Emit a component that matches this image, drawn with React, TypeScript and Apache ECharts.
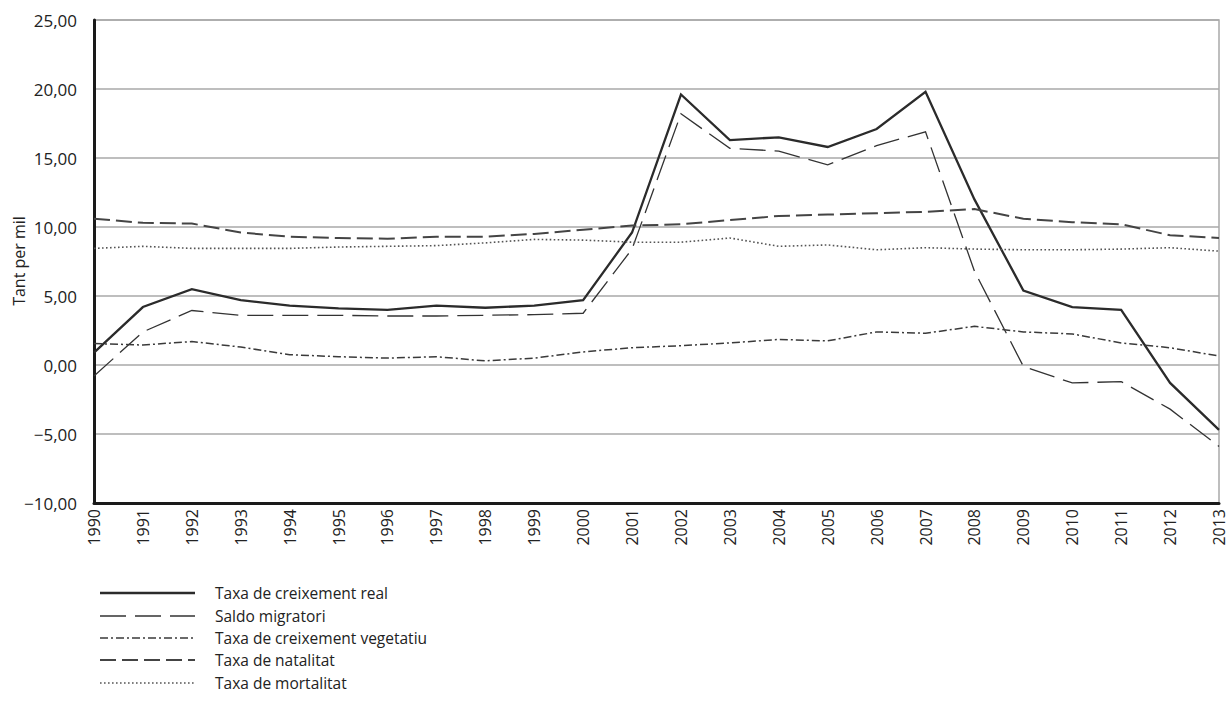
import React, { useEffect, useRef } from "react";
import * as echarts from "echarts";

const years = [
  "1990", "1991", "1992", "1993", "1994", "1995", "1996", "1997", "1998", "1999", "2000", "2001",
  "2002", "2003", "2004", "2005", "2006", "2007", "2008", "2009", "2010", "2011", "2012", "2013",
];

const creixementReal = [0.9, 4.2, 5.5, 4.7, 4.3, 4.1, 4.0, 4.3, 4.15, 4.3, 4.7, 9.6, 19.6, 16.3, 16.5, 15.8, 17.1, 19.8, 12.0, 5.4, 4.2, 4.0, -1.3, -4.7];
const saldoMigratori = [-0.8, 2.4, 3.95, 3.6, 3.6, 3.6, 3.55, 3.55, 3.6, 3.65, 3.75, 8.4, 18.2, 15.7, 15.5, 14.5, 15.9, 16.9, 6.8, -0.1, -1.3, -1.2, -3.2, -5.9];
const creixementVegetatiu = [1.55, 1.45, 1.7, 1.3, 0.75, 0.6, 0.5, 0.6, 0.3, 0.5, 0.95, 1.25, 1.4, 1.6, 1.85, 1.75, 2.4, 2.3, 2.8, 2.4, 2.25, 1.6, 1.25, 0.65];
const natalitat = [10.6, 10.3, 10.25, 9.6, 9.3, 9.2, 9.15, 9.3, 9.3, 9.5, 9.8, 10.1, 10.2, 10.5, 10.8, 10.9, 11.0, 11.1, 11.3, 10.6, 10.35, 10.2, 9.4, 9.2];
const mortalitat = [8.45, 8.6, 8.45, 8.45, 8.45, 8.55, 8.6, 8.65, 8.85, 9.1, 9.05, 8.9, 8.9, 9.2, 8.6, 8.7, 8.35, 8.5, 8.4, 8.35, 8.35, 8.4, 8.5, 8.25];

const seriesNames = [
  "Taxa de creixement real",
  "Saldo migratori",
  "Taxa de creixement vegetatiu",
  "Taxa de natalitat",
  "Taxa de mortalitat",
];

const yAxisTitle = "Tant per mil";

const FONT = "'Open Sans', 'Noto Sans', sans-serif";

const styles = [
  { color: "#2b2b2b", width: 2.3, dash: null as number[] | null },
  { color: "#333333", width: 1.3, dash: [26, 9] },
  { color: "#3a3a3a", width: 1.5, dash: [8, 3, 2, 3] },
  { color: "#444444", width: 2, dash: [16, 6] },
  { color: "#555555", width: 1.6, dash: [1.6, 2.4] },
];

export default function App() {
  const ref = useRef<HTMLDivElement>(null);

  useEffect(() => {
    document.body.style.margin = "0";
    if (!ref.current) return;
    const chart = echarts.init(ref.current, undefined, { renderer: "svg" });

    const seriesData = [creixementReal, saldoMigratori, creixementVegetatiu, natalitat, mortalitat];

    const series = seriesNames.map((name, i) => ({
      name,
      type: "line",
      data: seriesData[i],
      symbol: "none",
      showSymbol: false,
      smooth: false,
      lineStyle: {
        color: styles[i].color,
        width: styles[i].width,
        type: styles[i].dash ? styles[i].dash : "solid",
        cap: "butt",
        join: "miter",
      },
      itemStyle: { color: styles[i].color },
      emphasis: { disabled: true },
    }));

    const legendRowsY = [593, 616, 638, 660, 683];
    const graphics: any[] = [];
    seriesNames.forEach((name, i) => {
      graphics.push({
        type: "line",
        shape: { x1: 100, y1: legendRowsY[i], x2: 195, y2: legendRowsY[i] },
        style: {
          stroke: styles[i].color,
          lineWidth: styles[i].width,
          lineDash: styles[i].dash || undefined,
        },
        silent: true,
      });
      graphics.push({
        type: "text",
        x: 215,
        y: legendRowsY[i],
        style: {
          text: name,
          fontSize: 15.5,
          fontFamily: FONT,
          fill: "#222",
          verticalAlign: "middle",
          align: "left",
        },
        silent: true,
      });
    });
    graphics.push({
      type: "text",
      x: 19,
      y: 261,
      rotation: Math.PI / 2,
      style: {
        text: yAxisTitle,
        fontSize: 16,
        fontFamily: FONT,
        fill: "#222",
        align: "center",
        verticalAlign: "middle",
      },
      silent: true,
    });

    chart.setOption({
      animation: false,
      textStyle: { fontFamily: FONT },
      grid: {
        left: 94,
        right: 12,
        top: 20,
        bottom: 221,
        show: true,
        borderColor: "#a9a9a9",
        borderWidth: 1.5,
        containLabel: false,
        outerBoundsMode: "none",
      },
      xAxis: {
        type: "category",
        data: years,
        boundaryGap: false,
        axisLine: { show: true, onZero: false, lineStyle: { color: "#1a1a1a", width: 3 } },
        axisTick: { show: false },
        splitLine: { show: false },
        axisLabel: {
          rotate: 90,
          interval: 0,
          fontSize: 16,
          lineHeight: 16,
          color: "#222",
          margin: 6,
          fontFamily: FONT,
        },
      },
      yAxis: {
        type: "value",
        min: -10,
        max: 25,
        interval: 5,
        axisLine: { show: true, onZero: false, lineStyle: { color: "#1a1a1a", width: 3 } },
        axisTick: { show: false },
        axisLabel: {
          fontSize: 17,
          color: "#222",
          margin: 17,
          fontFamily: FONT,
          formatter: (v: number) => v.toFixed(2).replace(".", ",").replace("-", "\u2212"),
        },
        splitLine: { show: true, lineStyle: { color: "#a9a9a9", width: 1.5 } },
      },
      graphic: graphics,
      series,
    });

    return () => chart.dispose();
  }, []);

  return <div ref={ref} style={{ width: 1231, height: 724 }} />;
}
